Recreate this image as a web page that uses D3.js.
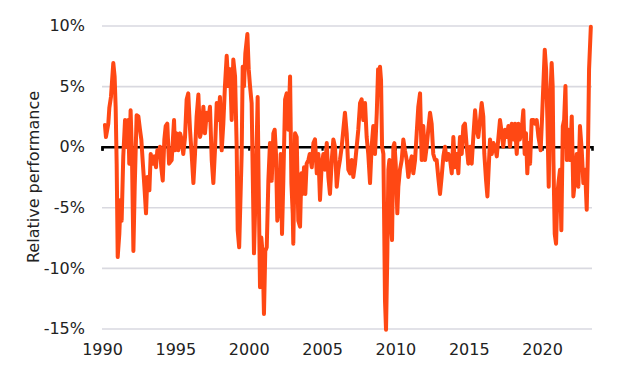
<!DOCTYPE html>
<html>
<head>
<meta charset="utf-8">
<script src="https://d3js.org/d3.v7.min.js"></script>
<style>
  body { margin: 0; background: #fff; }
  .chart text { font-family: "DejaVu Sans", Verdana, sans-serif; fill: #222; }
</style>
</head>
<body>
<div class="chart"></div>
<script>
// Relative performance over time

// dates as decimal years
var dates = [
  1990.20, 1990.27, 1990.43, 1990.50, 1990.61, 1990.77, 1990.86, 1990.93, 1991.00, 1991.07,
  1991.18, 1991.27, 1991.34, 1991.45, 1991.57, 1991.68, 1991.79, 1991.86, 1991.95, 1992.04,
  1992.14, 1992.23, 1992.36, 1992.48, 1992.59, 1992.68, 1992.77, 1992.89, 1993.00, 1993.09,
  1993.23, 1993.32, 1993.45, 1993.57, 1993.68, 1993.77, 1993.86, 1993.95, 1994.04, 1994.14,
  1994.25, 1994.34, 1994.45, 1994.57, 1994.75, 1994.91, 1994.98, 1995.09, 1995.20, 1995.32,
  1995.43, 1995.54, 1995.66, 1995.77, 1995.88, 1996.00, 1996.11, 1996.23, 1996.34, 1996.45,
  1996.57, 1996.68, 1996.80, 1996.91, 1997.02, 1997.14, 1997.25, 1997.36, 1997.48, 1997.59,
  1997.70, 1997.82, 1997.93, 1998.04, 1998.16, 1998.27, 1998.38, 1998.50, 1998.61, 1998.73,
  1998.84, 1998.95, 1999.07, 1999.18, 1999.25, 1999.35, 1999.52, 1999.59, 1999.68, 1999.77,
  1999.91, 2000.00, 2000.09, 2000.20, 2000.27, 2000.36, 2000.48, 2000.61, 2000.68, 2000.77,
  2000.86, 2000.95, 2001.04, 2001.13, 2001.23, 2001.34, 2001.45, 2001.57, 2001.68, 2001.77,
  2001.86, 2001.95, 2002.09, 2002.18, 2002.27, 2002.36, 2002.48, 2002.59, 2002.70, 2002.82,
  2002.91, 2003.00, 2003.04, 2003.16, 2003.27, 2003.38, 2003.50, 2003.59, 2003.68, 2003.77,
  2003.86, 2003.95, 2004.07, 2004.16, 2004.30, 2004.41, 2004.52, 2004.64, 2004.75, 2004.86,
  2004.98, 2005.09, 2005.20, 2005.32, 2005.43, 2005.54, 2005.66, 2005.77, 2005.88, 2006.00,
  2006.11, 2006.22, 2006.34, 2006.45, 2006.56, 2006.68, 2006.79, 2006.91, 2007.02, 2007.13,
  2007.25, 2007.36, 2007.47, 2007.59, 2007.70, 2007.81, 2007.93, 2008.04, 2008.15, 2008.27,
  2008.38, 2008.49, 2008.61, 2008.73, 2008.82, 2008.88, 2008.95, 2009.02, 2009.09, 2009.18,
  2009.22, 2009.29, 2009.36, 2009.45, 2009.52, 2009.59, 2009.68, 2009.77, 2009.86, 2009.93,
  2010.02, 2010.13, 2010.20, 2010.31, 2010.43, 2010.54, 2010.65, 2010.77, 2010.88, 2011.00,
  2011.11, 2011.22, 2011.34, 2011.45, 2011.56, 2011.68, 2011.79, 2011.90, 2012.02, 2012.13,
  2012.24, 2012.36, 2012.47, 2012.58, 2012.70, 2012.81, 2012.92, 2013.04, 2013.15, 2013.27,
  2013.38, 2013.49, 2013.61, 2013.70, 2013.84, 2013.95, 2014.06, 2014.18, 2014.29, 2014.40,
  2014.52, 2014.63, 2014.74, 2014.86, 2014.97, 2015.09, 2015.20, 2015.31, 2015.43, 2015.54,
  2015.65, 2015.77, 2015.88, 2015.99, 2016.06, 2016.18, 2016.27, 2016.36, 2016.45, 2016.57,
  2016.68, 2016.79, 2016.91, 2017.01, 2017.13, 2017.25, 2017.35, 2017.47, 2017.59, 2017.70,
  2017.81, 2017.93, 2018.04, 2018.15, 2018.27, 2018.38, 2018.48, 2018.61, 2018.72, 2018.81,
  2018.90, 2018.99, 2019.09, 2019.18, 2019.29, 2019.41, 2019.52, 2019.63, 2019.75, 2019.86,
  2019.90, 2019.99, 2020.08, 2020.18, 2020.27, 2020.36, 2020.45, 2020.54, 2020.65, 2020.72,
  2020.77, 2020.86, 2020.95, 2021.04, 2021.13, 2021.22, 2021.31, 2021.41, 2021.50, 2021.59,
  2021.68, 2021.79, 2021.90, 2022.02, 2022.13, 2022.24, 2022.36, 2022.47, 2022.58, 2022.70,
  2022.81, 2022.93, 2023.04, 2023.13, 2023.20, 2023.32
];

// relative performance in percent
var values = [
  1.8, 0.8, 1.9, 3.2, 4.1, 6.9, 5.8, 3.3, -1.4, -9.1,
  -7.2, -4.4, -6.1, -0.8, 2.2, 0.0, 2.2, -1.4, 3.0, -0.6,
  -8.6, -3.3, 2.6, 2.5, 1.4, 0.6, -1.1, -3.3, -5.5, -2.5,
  -3.6, -0.6, -1.4, -0.8, -1.7, -0.3, -0.8, 0.0, -1.7, -2.8,
  0.6, 1.7, 1.9, -1.4, -1.1, 2.2, -0.3, 1.1, -0.3, 1.1,
  0.6, -0.6, 0.8, 3.9, 4.4, 1.4, -0.6, -3.0, -0.6, 2.5,
  4.3, 0.8, 1.4, 3.3, 1.1, 2.8, 2.2, 3.3, -1.1, -3.0,
  -0.3, 3.6, 2.2, 4.1, -0.3, 1.9, 5.0, 7.5, 5.0, 6.4,
  2.2, 7.2, 5.8, 0.0, -6.9, -8.3, -0.6, 6.6, 5.0, 7.7,
  9.3, 6.4, 5.0, 3.6, -1.9, -8.8, -3.3, 4.1, -3.3, -11.6,
  -7.5, -8.8, -13.8, -8.6, -8.3, -2.8, 0.3, -2.8, 1.1, 1.4,
  -0.6, -6.1, -4.7, -0.6, -7.2, -2.8, 3.9, 4.4, 1.4, 5.8,
  -3.0, -5.5, -8.0, 1.1, 0.8, -6.1, -6.6, -2.2, -3.9, -1.7,
  -3.9, -1.4, -1.1, -0.6, -1.7, 0.3, 0.6, -2.2, -0.6, -4.4,
  -1.4, -0.6, -1.9, 0.3, -2.5, -3.9, -1.1, 0.6, 0.0, -3.3,
  -1.9, -1.1, 0.0, 1.4, 2.8, 1.1, -1.9, -2.2, -1.1, -2.5,
  -1.4, 0.0, 1.4, 3.6, 3.9, 2.2, 3.6, 0.8, -0.6, -3.0,
  0.0, 1.7, -0.6, 2.8, 6.4, 5.2, 6.6, 5.5, 0.0, -0.6,
  -4.7, -12.7, -15.1, -8.8, -1.9, -1.1, -6.1, -7.7, 0.0, 0.3,
  -1.4, -5.5, -3.3, -1.9, -1.1, 0.6, -0.3, -1.1, -2.5, -1.4,
  -0.8, -2.2, -1.1, 1.1, 3.3, 4.4, -1.1, 1.7, -1.1, 0.0,
  1.4, 2.8, 1.9, -0.6, -1.1, -1.1, -2.5, -3.9, -2.5, -0.8,
  0.0, -1.1, -0.6, -0.8, -2.2, 0.8, -1.7, -0.6, -2.2, 0.8,
  -0.6, 1.7, 1.9, 0.0, -1.4, 0.0, -1.4, 0.8, 3.0, 1.4,
  0.8, 2.2, 3.6, 2.5, -0.6, -2.8, -4.1, -1.7, 0.6, -0.6,
  0.3, 0.0, -0.8, 0.6, 2.2, 1.1, 0.0, 1.4, 0.8, 1.7,
  0.0, 1.9, 0.6, 1.9, -0.6, 1.9, 0.6, 1.4, 3.0, -0.6,
  1.1, -2.2, 0.3, -1.4, 2.2, 2.2, 1.9, 2.2, 0.8, 0.0,
  -0.3, 2.2, 5.0, 8.0, 6.4, 2.2, -3.3, 3.6, 6.9, 5.0,
  -1.1, -7.2, -8.0, -3.9, -2.8, -1.9, -6.9, 1.7, 2.2, 5.0,
  -1.1, 1.4, -1.1, 2.5, -4.1, -2.8, -0.6, -3.3, 1.7, -0.3,
  -3.0, -1.9, -5.2, 0.0, 6.4, 9.9
];

var yearTicks = [1990, 1995, 2000, 2005, 2010, 2015, 2020];
var pctTicks = [-15, -10, -5, 0, 5, 10];

var svgWidth = 640;
var svgHeight = 376;

var svg = d3.select(".chart")
    .append("svg")
    .attr("width", svgWidth)
    .attr("height", svgHeight);

var xScale = d3.scaleLinear()
    .domain([1990, 2023.4])
    .range([102, 592]);

var yScale = d3.scaleLinear()
    .domain([-15, 10])
    .range([328.5, 25.5]);

// gridlines + y labels
var leftAxis = d3.axisLeft(yScale)
    .tickValues(pctTicks)
    .tickSize(-(592 - 102))
    .tickPadding(17)
    .tickFormat(function(d) { return d + "%"; });

var yAxisG = svg.append("g")
    .attr("transform", "translate(102,0)")
    .call(leftAxis);
yAxisG.select(".domain").remove();
yAxisG.selectAll("line")
    .attr("stroke", "#d9d9e0")
    .attr("stroke-width", 1.6);
yAxisG.selectAll("text")
    .style("font-size", "16px");

// year labels along the bottom
var bottomAxis = d3.axisBottom(xScale)
    .tickValues(yearTicks)
    .tickSize(0)
    .tickPadding(16)
    .tickFormat(d3.format("d"));

var xAxisG = svg.append("g")
    .attr("transform", "translate(0,328)")
    .call(bottomAxis);
xAxisG.select(".domain").remove();
xAxisG.selectAll("text")
    .style("font-size", "16px");

// black zero line with small ticks
var zeroAxis = d3.axisBottom(xScale)
    .tickValues(yearTicks)
    .tickSize(4)
    .tickFormat("");

var zeroG = svg.append("g")
    .attr("transform", "translate(0," + yScale(0) + ")")
    .call(zeroAxis);
zeroG.select(".domain")
    .attr("stroke", "#000")
    .attr("stroke-width", 2.6);
zeroG.selectAll("line")
    .attr("stroke", "#000")
    .attr("stroke-width", 2.2);

// the series
var series = dates.map(function(d, i) { return { date: d, value: values[i] }; });

var line = d3.line()
    .x(function(d) { return xScale(d.date); })
    .y(function(d) { return yScale(d.value); });

svg.append("path")
    .datum(series)
    .attr("d", line)
    .attr("fill", "none")
    .attr("stroke", "#ff4814")
    .attr("stroke-width", 4)
    .attr("stroke-linejoin", "round")
    .attr("stroke-linecap", "round");

// y axis title
svg.append("text")
    .attr("transform", "translate(39,177) rotate(-90)")
    .attr("text-anchor", "middle")
    .style("font-size", "16px")
    .text("Relative performance");
</script>
</body>
</html>
